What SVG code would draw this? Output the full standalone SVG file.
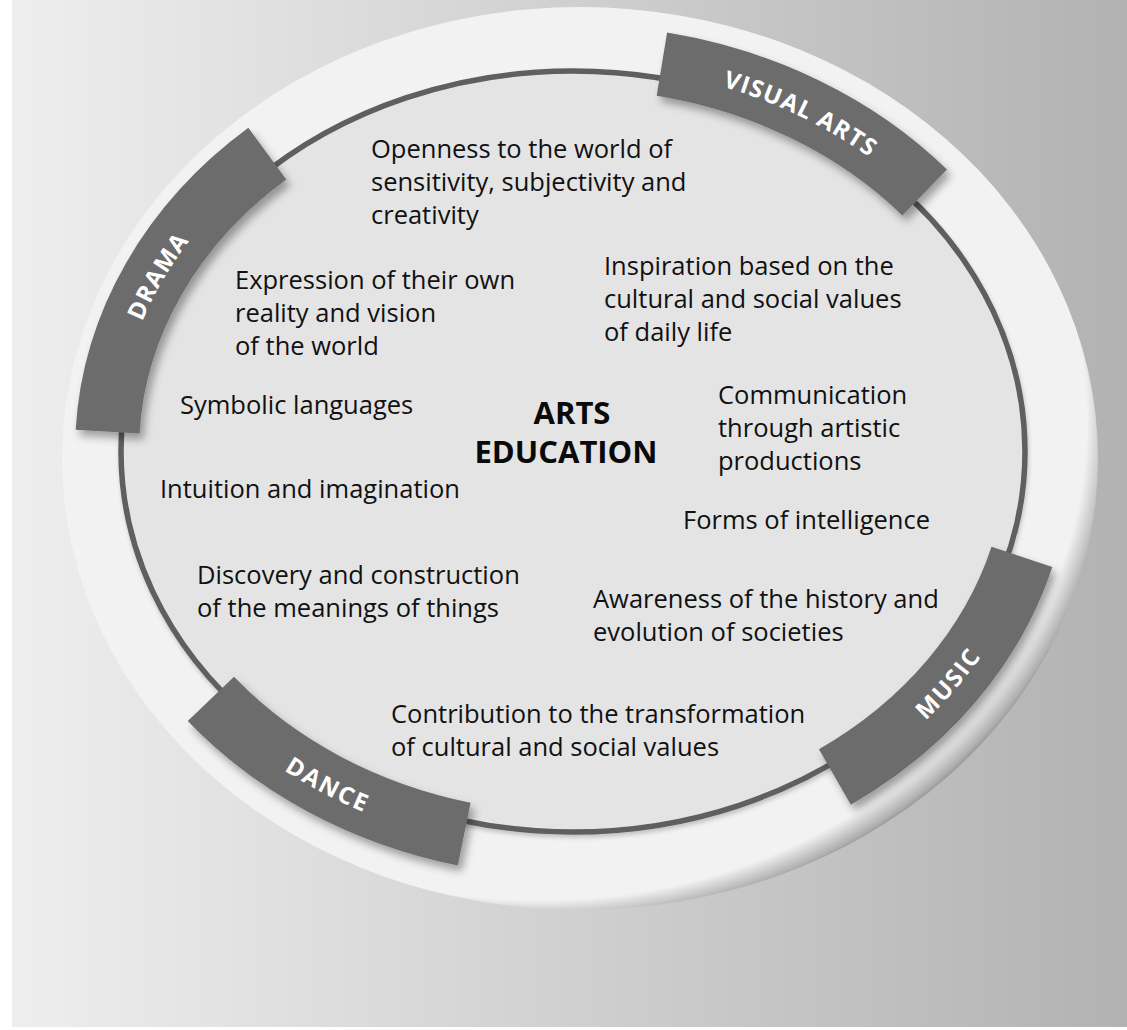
<svg xmlns="http://www.w3.org/2000/svg" xmlns:xlink="http://www.w3.org/1999/xlink" width="1127" height="1030" viewBox="0 0 1127 1030">
  <defs>
    <linearGradient id="bg" x1="0" y1="0" x2="1" y2="0">
      <stop offset="0" stop-color="#eeeeee"/>
      <stop offset="1" stop-color="#b2b2b2"/>
    </linearGradient>
    <radialGradient id="rim" cx="0.46" cy="0.46" r="0.56">
      <stop offset="0" stop-color="#f3f3f3"/>
      <stop offset="0.945" stop-color="#f2f2f2"/>
      <stop offset="0.985" stop-color="#b0b0b0"/>
      <stop offset="1" stop-color="#8a8a8a"/>
    </radialGradient>
    <filter id="shadow" filterUnits="userSpaceOnUse" x="0" y="0" width="1127" height="1030">
      <feDropShadow dx="4" dy="6" stdDeviation="4" flood-color="#000" flood-opacity="0.35"/>
    </filter>
    <filter id="soft" filterUnits="userSpaceOnUse" x="0" y="0" width="1127" height="1030">
      <feDropShadow dx="1" dy="3" stdDeviation="2" flood-color="#000" flood-opacity="0.2"/>
    </filter>
    <path id="pVisual" d="M 661.9 64.2 A 466 394 0 0 1 924.7 192.5"/>
    <path id="pDrama" d="M 107.6 431.7 A 466 394 0 0 1 267.3 153.6"/>
    <path id="pDance" d="M 210.9 698.9 A 466 394 0 0 0 464.2 834.1"/>
    <path id="pMusic" d="M 834.9 776.9 A 466 394 0 0 0 1021.9 556.9"/>
  </defs>
  <style>
    .band { fill: none; stroke: #6c6c6c; stroke-width: 64; stroke-linecap: butt; }
    .bandtxt { font-family: "Open Sans", "Noto Sans", sans-serif; font-weight: 700; font-size: 24px; fill: #ffffff; letter-spacing: 1.5px; }
    .t { font-family: "Open Sans", "Noto Sans", sans-serif; font-size: 25.5px; fill: #111111; }
    .title { font-family: "Open Sans", "Noto Sans", sans-serif; font-size: 31px; font-weight: 700; fill: #0a0a0a; text-anchor: middle; }
  </style>

  <rect x="0" y="0" width="1127" height="1030" fill="#ffffff"/>
  <rect x="12" y="0" width="1115" height="1027" fill="url(#bg)"/>

  <g id="base">
    <ellipse cx="580" cy="458.5" rx="518" ry="451.5" fill="url(#rim)"/>
    <ellipse cx="573" cy="451.5" rx="452" ry="380.5" fill="#e4e4e4" stroke="#5e5e5e" stroke-width="5.5" filter="url(#soft)"/>
  </g>

  <g id="connectors"></g>

  <g id="band-visual-arts">
    <use xlink:href="#pVisual" class="band" filter="url(#shadow)"/>
    <text class="bandtxt" dy="8.5"><textPath xlink:href="#pVisual" startOffset="50%" text-anchor="middle">VISUAL ARTS</textPath></text>
  </g>
  <g id="band-drama">
    <use xlink:href="#pDrama" class="band" filter="url(#shadow)"/>
    <text class="bandtxt" dy="8.5"><textPath xlink:href="#pDrama" startOffset="50%" text-anchor="middle">DRAMA</textPath></text>
  </g>
  <g id="band-dance">
    <use xlink:href="#pDance" class="band" filter="url(#shadow)"/>
    <text class="bandtxt" dy="8.5"><textPath xlink:href="#pDance" startOffset="50%" text-anchor="middle">DANCE</textPath></text>
  </g>
  <g id="band-music">
    <use xlink:href="#pMusic" class="band" filter="url(#shadow)"/>
    <text class="bandtxt" dy="8.5"><textPath xlink:href="#pMusic" startOffset="50%" text-anchor="middle">MUSIC</textPath></text>
  </g>

  <g id="center">
    <text class="title" x="572" y="424">ARTS</text>
    <text class="title" x="566" y="463">EDUCATION</text>
  </g>

  <g id="openness">
    <text class="t" x="371" y="158">Openness to the world of</text>
    <text class="t" x="371" y="191">sensitivity, subjectivity and</text>
    <text class="t" x="371" y="224">creativity</text>
  </g>
  <g id="expression">
    <text class="t" x="235" y="289">Expression of their own</text>
    <text class="t" x="235" y="322">reality and vision</text>
    <text class="t" x="235" y="355">of the world</text>
  </g>
  <g id="inspiration">
    <text class="t" x="604" y="275">Inspiration based on the</text>
    <text class="t" x="604" y="308">cultural and social values</text>
    <text class="t" x="604" y="341">of daily life</text>
  </g>
  <g id="symbolic">
    <text class="t" x="180" y="414">Symbolic languages</text>
  </g>
  <g id="communication">
    <text class="t" x="718" y="404">Communication</text>
    <text class="t" x="718" y="437">through artistic</text>
    <text class="t" x="718" y="470">productions</text>
  </g>
  <g id="intuition">
    <text class="t" x="160" y="498">Intuition and imagination</text>
  </g>
  <g id="forms">
    <text class="t" x="683" y="529">Forms of intelligence</text>
  </g>
  <g id="discovery">
    <text class="t" x="197" y="584">Discovery and construction</text>
    <text class="t" x="197" y="617">of the meanings of things</text>
  </g>
  <g id="awareness">
    <text class="t" x="593" y="608">Awareness of the history and</text>
    <text class="t" x="593" y="641">evolution of societies</text>
  </g>
  <g id="contribution">
    <text class="t" x="391" y="723">Contribution to the transformation</text>
    <text class="t" x="391" y="756">of cultural and social values</text>
  </g>
</svg>
